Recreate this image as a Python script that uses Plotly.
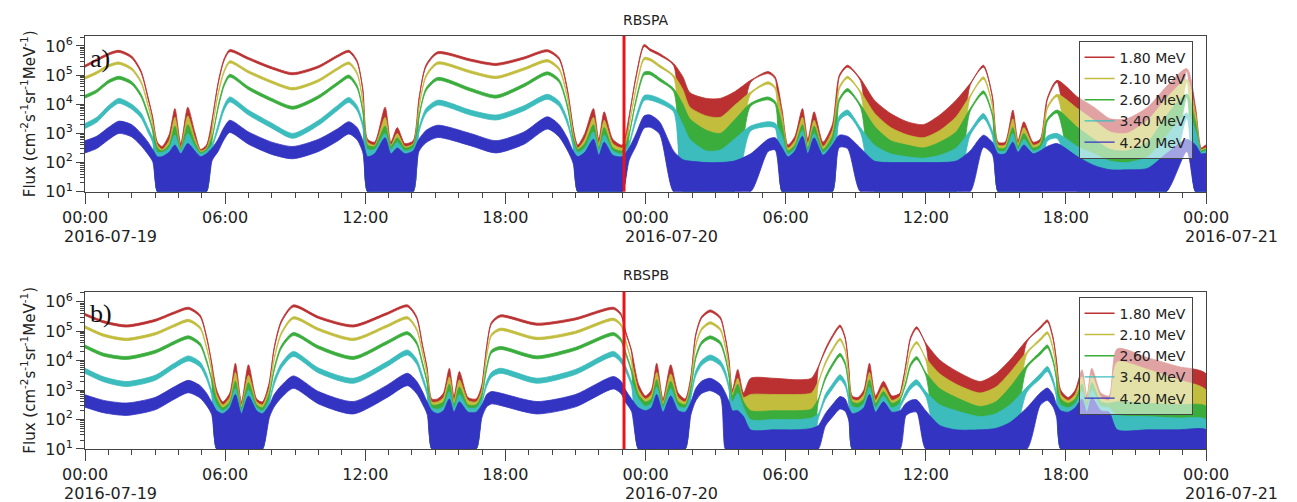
import pandas as pd
import plotly.graph_objects as go

# ---------------- data (log10 flux, upper envelope of each channel) ----------------
T0 = pd.Timestamp("2016-07-19 00:00")
EVENT_HOUR = 23.08  # red vertical marker (hours after 2016-07-19 00:00)

CHANNELS = ["1.80 MeV", "2.10 MeV", "2.60 MeV", "3.40 MeV", "4.20 MeV"]
COLORS = ["#bb3131", "#c2bd3d", "#3aad3c", "#3cbcbc", "#3434c2"]

TIME_A = [0, 0.5, 1.0, 1.45, 2.0, 2.4, 2.7, 2.9, 3.1,
          3.3, 3.6, 3.85, 4.1, 4.4, 4.7, 4.95, 5.2,
          5.45, 5.7, 5.95, 6.2, 7.0, 8.0, 8.9, 10.0, 10.8, 11.3, 11.65, 11.9, 12.1,
          12.4, 12.85, 13.1, 13.37, 13.7, 14.05,
          14.3, 14.6, 15.1, 16.5, 17.6, 18.8, 19.8, 20.3, 20.65, 20.9, 21.1,
          21.4, 21.77, 22.0, 22.23, 22.6, 23.0,
          23.3, 23.6, 23.94, 24.2, 24.6, 25.2, 25.6, 25.9, 26.6, 27.2, 27.8, 28.5, 29.25, 29.55, 29.85,
          30.1, 30.4, 30.72, 30.95, 31.22, 31.6, 32.0,
          32.3, 32.65, 33.2, 33.8, 34.5, 35.2, 35.9, 36.6, 37.3, 37.9, 38.47, 38.85, 39.1,
          39.4, 39.73, 39.95, 40.2, 40.6, 40.9,
          41.2, 41.62, 42.5, 43.2, 43.9, 44.6, 45.5, 46.3, 47.18, 47.55, 47.8, 48.0]

A_180 = [5.34, 5.55, 5.75, 5.85, 5.65, 5.15, 4.25, 3.55, 2.7,
         2.55, 2.95, 3.85, 2.65, 3.9, 3.05, 2.45, 2.6,
         3.5, 4.75, 5.55, 5.87, 5.6, 5.28, 5.08, 5.32, 5.68, 5.85, 5.5, 4.5, 2.8,
         2.7, 3.9, 2.7, 3.2, 2.65, 2.75,
         4.2, 5.35, 5.8, 5.55, 5.4, 5.62, 5.87, 5.6, 4.55, 3.2, 2.6,
         3.0, 3.85, 2.8, 3.74, 2.8, 2.6,
         3.6, 5.0, 6.05, 5.9, 5.74, 5.4, 4.94, 4.4, 4.2, 4.2, 4.42, 4.82, 5.12, 4.94, 3.8,
         2.6, 2.9, 3.85, 2.8, 3.74, 2.7, 3.3,
         5.0, 5.34, 4.88, 4.14, 3.68, 3.4, 3.3, 3.63, 4.14, 4.71, 5.34, 4.3, 2.7,
         2.7, 3.8, 2.75, 3.4, 2.7, 2.8,
         4.2, 4.82, 4.25, 3.9, 3.5, 3.5, 3.9, 4.6, 5.22, 3.9, 2.5, 2.6]
A_210 = [4.94, 5.12, 5.35, 5.45, 5.25, 4.8, 4.0, 3.35, 2.6,
         2.45, 2.75, 3.55, 2.5, 3.6, 2.85, 2.4, 2.5,
         3.2, 4.4, 5.15, 5.49, 5.15, 4.8, 4.57, 4.85, 5.25, 5.45, 5.1, 4.1, 2.7,
         2.6, 3.55, 2.6, 3.0, 2.55, 2.65,
         3.9, 5.0, 5.45, 5.15, 4.96, 5.25, 5.53, 5.25, 4.3, 3.0, 2.5,
         2.8, 3.55, 2.65, 3.45, 2.65, 2.5,
         3.3, 4.6, 5.6, 5.57, 5.35, 5.0, 4.5, 3.9, 3.6, 3.55, 3.95, 4.42, 4.77, 4.6, 3.6,
         2.5, 2.75, 3.55, 2.65, 3.45, 2.55, 3.1,
         4.6, 4.96, 4.45, 3.7, 3.2, 2.95, 2.85, 3.1, 3.57, 4.3, 4.94, 4.0, 2.6,
         2.6, 3.5, 2.65, 3.2, 2.6, 2.7,
         3.9, 4.34, 3.85, 3.45, 3.05, 3.0, 3.45, 4.2, 4.85, 3.7, 2.45, 2.5]
A_260 = [4.31, 4.5, 4.82, 4.96, 4.78, 4.35, 3.7, 3.15, 2.5,
         2.4, 2.6, 3.25, 2.45, 3.3, 2.7, 2.35, 2.45,
         2.9, 3.95, 4.7, 5.03, 4.6, 4.2, 3.93, 4.3, 4.75, 5.0, 4.65, 3.8, 2.6,
         2.55, 3.25, 2.55, 2.85, 2.5, 2.6,
         3.6, 4.55, 4.92, 4.55, 4.31, 4.7, 5.11, 4.85, 4.0, 2.85, 2.45,
         2.65, 3.3, 2.5, 3.2, 2.5, 2.4,
         3.0, 4.2, 5.1, 5.11, 4.9, 4.54, 4.0, 3.5, 3.11, 3.0, 3.45, 4.03, 4.25, 4.1, 3.3,
         2.4, 2.6, 3.3, 2.5, 3.25, 2.45, 2.9,
         4.2, 4.54, 4.0, 3.25, 2.75, 2.6, 2.5, 2.7, 3.05, 3.85, 4.46, 3.7, 2.5,
         2.5, 3.2, 2.55, 3.0, 2.5, 2.6,
         3.5, 3.8, 3.2, 2.8, 2.45, 2.4, 2.7, 3.6, 4.35, 3.4, 2.4, 2.45]
A_340 = [3.34, 3.55, 3.95, 4.2, 4.0, 3.7, 3.2, 2.85, 2.35,
         2.35, 2.5, 2.95, 2.4, 3.0, 2.55, 2.3, 2.4,
         2.65, 3.3, 3.95, 4.25, 3.8, 3.35, 3.0, 3.45, 3.95, 4.23, 3.95, 3.35, 2.45,
         2.45, 3.0, 2.45, 2.7, 2.4, 2.5,
         3.2, 3.85, 4.14, 3.8, 3.63, 3.95, 4.34, 4.1, 3.5, 2.7, 2.35,
         2.5, 3.05, 2.4, 2.95, 2.4, 2.3,
         2.7, 3.6, 4.3, 4.31, 4.2, 3.91, 3.3, 2.8, 2.4, 2.43, 2.8, 3.25, 3.4, 3.35, 2.9,
         2.3, 2.5, 3.1, 2.4, 3.0, 2.35, 2.7,
         3.6, 3.8, 3.2, 2.6, 2.3, 2.2, 2.15, 2.25, 2.5, 3.1, 3.68, 3.1, 2.4,
         2.4, 3.0, 2.45, 2.8, 2.4, 2.5,
         2.9, 3.0, 2.55, 2.3, 2.05, 2.0, 2.2, 2.9, 3.7, 3.1, 2.35, 2.4]
A_420 = [2.75, 2.9, 3.2, 3.42, 3.3, 3.0, 2.7, 2.45, 2.2,
         2.2, 2.35, 2.6, 2.3, 2.65, 2.4, 2.2, 2.3,
         2.5, 2.8, 3.2, 3.45, 3.05, 2.7, 2.55, 2.8, 3.15, 3.4, 3.2, 2.75, 2.2,
         2.3, 2.85, 2.3, 2.5, 2.3, 2.4,
         2.8, 3.1, 3.28, 3.0, 2.75, 3.05, 3.57, 3.3, 2.85, 2.4, 2.2,
         2.35, 2.8, 2.25, 2.7, 2.25, 2.2,
         2.5, 3.0, 3.6, 3.63, 3.4, 2.4, 2.1, 2.05, 2.0, 2.0, 2.05, 2.3, 2.8, 2.85, 2.5,
         2.2, 2.4, 2.9, 2.3, 2.85, 2.25, 2.6,
         2.94, 2.9, 2.5, 2.05, 2.0, 2.0, 2.0, 2.0, 2.05, 2.4, 2.94, 2.7, 2.3,
         2.3, 2.7, 2.35, 2.6, 2.3, 2.4,
         2.55, 2.65, 2.2, 1.9, 1.75, 1.75, 1.8, 2.3, 2.8, 2.6, 2.3, 2.3]
# hour intervals where the channels are noisy down to the count floor
A_STACK = [(3.0, 5.3), (12.0, 14.2), (20.95, 23.25), (25.4, 28.2), (29.8, 32.15),
           (33.5, 37.7), (39.0, 41.1), (42.2, 46.6), (47.5, 48.0)]
A_BLUE_FLOOR = [(3.0, 5.3), (12.0, 14.2), (20.95, 23.25), (25.0, 29.1), (29.8, 32.15),
                (32.9, 38.2), (39.0, 46.8), (47.5, 48.0)]

TIME_B = [0, 0.8, 1.78, 3.0, 3.8, 4.43, 4.93, 5.2, 5.42, 5.64,
          5.9, 6.2, 6.44, 6.7, 7.0, 7.35, 7.6,
          7.9, 8.1, 8.4, 8.92, 10.0, 11.49, 12.9, 13.81, 14.2, 14.45, 14.65, 14.85,
          15.1, 15.35, 15.6, 15.8, 16.03, 16.4, 16.75,
          17.0, 17.2, 17.4, 17.78, 19.35, 21.0, 22.63, 22.95, 23.15, 23.4, 23.7,
          24.0, 24.25, 24.48, 24.75, 25.08, 25.4, 25.7,
          25.95, 26.15, 26.4, 26.77, 27.2, 27.42, 27.58, 27.72, 27.95, 28.2, 28.5, 29.5, 30.5, 31.1,
          31.4, 31.7, 32.0, 32.33, 32.55, 32.7, 32.85,
          33.1, 33.35, 33.59, 33.85, 34.19, 34.55,
          34.9, 35.15, 35.35, 35.61, 36.0, 36.6, 37.3, 38.33, 39.0, 39.61, 40.33, 40.9, 41.21, 41.45, 41.6, 41.78,
          42.1, 42.4, 42.69, 42.9, 43.11, 43.5, 43.85, 44.2, 45.5, 46.8, 48.0]

B_180 = [5.6, 5.35, 5.21, 5.4, 5.65, 5.81, 5.55, 4.85, 3.95, 3.0,
         2.6, 2.9, 3.91, 2.6, 3.86, 2.7, 2.6,
         3.3, 4.45, 5.35, 5.89, 5.5, 5.21, 5.62, 5.89, 5.5, 4.55, 3.75, 2.7,
         2.7, 2.9, 3.74, 2.8, 3.63, 2.75, 2.7,
         3.2, 4.5, 5.3, 5.55, 5.27, 5.45, 5.81, 5.6, 5.0, 4.36, 3.2,
         2.8, 3.0, 3.91, 2.7, 3.86, 2.9, 2.7,
         3.5, 4.9, 5.5, 5.72, 5.49, 4.8, 4.0, 3.0, 3.7, 2.9, 3.4, 3.4, 3.35, 3.4,
         3.8, 4.4, 4.85, 5.21, 4.8, 3.8, 2.8,
         2.75, 3.0, 3.91, 2.8, 3.3, 2.8,
         2.9, 3.9, 4.8, 5.15, 4.6, 4.02, 3.65, 3.29, 3.55, 4.02, 4.7, 5.15, 5.38, 4.8, 4.0, 3.0,
         2.75, 3.0, 3.69, 2.8, 3.74, 2.9, 2.8, 4.4, 4.1, 3.8, 3.55]
B_210 = [5.18, 4.9, 4.76, 4.95, 5.22, 5.4, 5.15, 4.5, 3.7, 2.85,
         2.5, 2.75, 3.6, 2.5, 3.5, 2.6, 2.5,
         3.1, 4.1, 4.95, 5.49, 5.1, 4.76, 5.2, 5.49, 5.1, 4.3, 3.55, 2.6,
         2.6, 2.75, 3.45, 2.65, 3.35, 2.65, 2.6,
         3.0, 4.2, 4.9, 5.1, 4.79, 5.0, 5.44, 5.25, 4.7, 4.0, 3.0,
         2.7, 2.85, 3.6, 2.6, 3.55, 2.75, 2.6,
         3.3, 4.55, 5.1, 5.32, 5.1, 4.5, 3.75, 2.9, 3.4, 2.75, 2.85, 2.85, 2.85, 2.9,
         3.3, 3.95, 4.4, 4.76, 4.4, 3.5, 2.7,
         2.65, 2.85, 3.6, 2.65, 3.1, 2.65,
         2.8, 3.6, 4.35, 4.65, 4.1, 3.55, 3.2, 2.9, 3.1, 3.6, 4.3, 4.75, 4.98, 4.45, 3.7, 2.85,
         2.65, 2.85, 3.45, 2.65, 3.5, 2.75, 2.65, 3.95, 3.7, 3.35, 3.0]
B_260 = [4.53, 4.25, 4.14, 4.35, 4.65, 4.84, 4.6, 4.05, 3.4, 2.7,
         2.4, 2.6, 3.3, 2.4, 3.25, 2.5, 2.4,
         2.9, 3.75, 4.5, 4.95, 4.5, 4.14, 4.65, 4.98, 4.65, 3.95, 3.3, 2.5,
         2.5, 2.6, 3.2, 2.5, 3.1, 2.5, 2.5,
         2.85, 3.8, 4.35, 4.48, 4.16, 4.45, 4.95, 4.75, 4.3, 3.7, 2.85,
         2.6, 2.7, 3.35, 2.5, 3.3, 2.6, 2.5,
         3.1, 4.15, 4.65, 4.84, 4.65, 4.15, 3.5, 2.8, 3.2, 2.6, 2.3, 2.3, 2.3, 2.35,
         2.7, 3.45, 3.9, 4.25, 3.95, 3.2, 2.6,
         2.55, 2.7, 3.35, 2.55, 2.95, 2.55,
         2.7, 3.3, 3.9, 4.14, 3.6, 3.05, 2.75, 2.44, 2.6, 3.1, 3.85, 4.3, 4.53, 4.05, 3.4, 2.7,
         2.55, 2.7, 3.2, 2.55, 3.25, 2.6, 2.55, 2.6, 2.55, 2.5, 2.45]
B_340 = [3.74, 3.45, 3.29, 3.5, 3.9, 4.16, 3.95, 3.55, 3.0, 2.5,
         2.3, 2.5, 3.05, 2.3, 3.0, 2.4, 2.3,
         2.7, 3.35, 3.9, 4.31, 3.75, 3.4, 3.95, 4.36, 4.05, 3.5, 3.0, 2.4,
         2.35, 2.45, 2.95, 2.4, 2.85, 2.4, 2.4,
         2.7, 3.3, 3.6, 3.74, 3.4, 3.7, 4.31, 4.1, 3.8, 3.3, 2.7,
         2.45, 2.55, 3.1, 2.4, 3.05, 2.45, 2.4,
         2.9, 3.65, 4.0, 4.19, 4.0, 3.65, 3.15, 2.6, 2.9, 2.4, 2.0, 2.0, 2.0, 2.05,
         2.2, 2.85, 3.2, 3.52, 3.3, 2.8, 2.45,
         2.4, 2.55, 3.1, 2.4, 2.8, 2.4,
         2.55, 2.95, 3.2, 3.35, 2.95, 2.5, 2.3, 2.1, 2.2, 2.5, 3.1, 3.55, 3.8, 3.4, 2.9, 2.5,
         2.4, 2.55, 2.95, 2.4, 3.0, 2.45, 2.4, 2.15, 2.1, 2.05, 2.0]
B_420 = [2.84, 2.65, 2.56, 2.75, 3.1, 3.33, 3.15, 2.9, 2.6, 2.3,
         2.2, 2.4, 2.85, 2.2, 2.8, 2.3, 2.2,
         2.5, 2.85, 3.15, 3.48, 2.95, 2.61, 3.15, 3.57, 3.3, 2.95, 2.6, 2.3,
         2.2, 2.3, 2.7, 2.25, 2.6, 2.25, 2.25,
         2.5, 2.85, 2.95, 2.9, 2.61, 2.85, 3.46, 3.3, 3.0, 2.7, 2.4,
         2.3, 2.4, 2.85, 2.25, 2.8, 2.3, 2.25,
         2.6, 3.05, 3.3, 3.4, 3.2, 2.9, 2.6, 2.3, 2.3, 2.1, 1.65, 1.65, 1.65, 1.7,
         1.8, 2.2, 2.5, 2.78, 2.7, 2.4, 2.2,
         2.25, 2.4, 2.85, 2.25, 2.6, 2.25,
         2.3, 2.55, 2.65, 2.67, 2.3, 1.8, 1.65, 1.65, 1.7, 1.9, 2.4, 2.9, 3.07, 2.85, 2.5, 2.3,
         2.25, 2.4, 2.7, 2.25, 2.75, 2.3, 2.25, 1.65, 1.65, 1.65, 1.65]
B_STACK = [(5.55, 7.75), (14.75, 16.9), (23.6, 25.9), (27.65, 31.2), (32.75, 34.8),
           (36.3, 40.1), (41.7, 48.0)]
B_BLUE_FLOOR = [(5.55, 7.75), (14.75, 16.9), (23.6, 25.9), (27.3, 31.5), (32.75, 35.0),
                (35.9, 40.5), (41.7, 48.0)]

# ---------------- styling ----------------
BAND = [0.07, 0.08, 0.10, 0.17, 0.42]   # visual thickness of the noisy trace (decades)
FONT = "DejaVu Sans"
INK = "#222222"
AX = "#444444"
PAGE_OFFSET = 8   # default body margin of the html page (px)
W, H = 1297 - PAGE_OFFSET, 502


def to_time(hours):
    return [T0 + pd.Timedelta(hours=h) for h in hours]


def inside(h, intervals):
    return any(a <= h <= b for a, b in intervals)


fig = go.Figure()

panels = [
    ("x", "y", "legend", TIME_A, [A_180, A_210, A_260, A_340, A_420], A_STACK, A_BLUE_FLOOR),
    ("x2", "y2", "legend2", TIME_B, [B_180, B_210, B_260, B_340, B_420], B_STACK, B_BLUE_FLOOR),
]

for xa, ya, leg, hours, series, stack, bfloor in panels:
    times = to_time(hours)
    for k, (name, col, hi) in enumerate(zip(CHANNELS, COLORS, series)):
        floor = bfloor if k == 4 else stack
        lo = [1.0 if inside(h, floor) else v - BAND[k] for h, v in zip(hours, hi)]
        xs = times + times[::-1]
        ys = [10 ** v for v in hi] + [10 ** v for v in lo[::-1]]
        fig.add_trace(go.Scatter(
            x=xs, y=ys, mode="lines", fill="toself", fillcolor=col,
            line=dict(color=col, width=0.8, shape="spline", smoothing=0.7),
            showlegend=False, hoverinfo="skip", xaxis=xa, yaxis=ya))
    for name, col in zip(CHANNELS, COLORS):
        fig.add_trace(go.Scatter(
            x=[None], y=[None], mode="lines", line=dict(color=col, width=1.4),
            name=name, legend=leg, xaxis=xa, yaxis=ya))

t_start, t_end = T0, T0 + pd.Timedelta(hours=48)
t_event = T0 + pd.Timedelta(hours=EVENT_HOUR)

xcommon = dict(
    type="date", range=[t_start, t_end], tickmode="linear", tick0=t_start,
    dtick=6 * 3600 * 1000, tickformat="%H:%M", ticks="outside", ticklen=11,
    tickwidth=1, tickcolor=AX, showline=True, linecolor=AX, linewidth=1, mirror=True,
    showgrid=False, zeroline=False, ticklabelstandoff=0,
    tickfont=dict(family=FONT, size=16, color=INK),
    minor=dict(ticks="outside", ticklen=5, tickcolor=AX, tickwidth=1,
               tick0=t_start, dtick=3600 * 1000, showgrid=False),
)
DECADES = [1, 2, 3, 4, 5, 6]
ycommon = dict(
    type="log", range=[1, 6.34], tickmode="array",
    tickvals=[10 ** d for d in DECADES],
    ticktext=["10<sup>%d</sup>" % d for d in DECADES],
    ticks="outside", ticklen=8, tickwidth=1, tickcolor=AX,
    showline=True, linecolor=AX, linewidth=1, mirror=True, showgrid=False,
    zeroline=False, tickfont=dict(family=FONT, size=16, color=INK),
    minor=dict(ticks="outside", ticklen=4, tickcolor=AX, tickwidth=1,
               tickvals=[m * 10 ** d for d in DECADES[:-1] for m in range(2, 10)]
               + [2 * 10 ** 6],
               showgrid=False),
    title=dict(text="Flux (cm<sup>-2</sup>s<sup>-1</sup>sr<sup>-1</sup>MeV<sup>-1</sup>)",
               font=dict(family=FONT, size=15, color=INK), standoff=6),
)

fig.update_layout(
    width=W, height=H,
    margin=dict(l=85 - PAGE_OFFSET, r=91, t=36 - PAGE_OFFSET, b=53 + PAGE_OFFSET),
    paper_bgcolor="white", plot_bgcolor="white",
    xaxis=dict(domain=[0, 1], anchor="y", **xcommon),
    yaxis=dict(domain=[0.623, 1.0], anchor="x", **ycommon),
    xaxis2=dict(domain=[0, 1], anchor="y2", **xcommon),
    yaxis2=dict(domain=[0.0, 0.381], anchor="x2", **ycommon),
    font=dict(family=FONT, color=INK),
)

legcommon = dict(
    x=0.988, xanchor="right", yanchor="top",
    bgcolor="rgba(255,255,255,0.55)", bordercolor="#444444", borderwidth=1,
    font=dict(family=FONT, size=14, color=INK), itemwidth=30, tracegroupgap=0,
)
fig.update_layout(legend=dict(y=0.9886, **legcommon), legend2=dict(y=0.3688, **legcommon))

shapes, annotations = [], []
for xa, ya, title, label, tshift in [("x", "y", "RBSPA", "a)", 15.7), ("x2", "y2", "RBSPB", "b)", 16.7)]:
    shapes.append(dict(type="line", xref=xa, yref=ya + " domain", x0=t_event, x1=t_event,
                       y0=0, y1=1, line=dict(color="#e8141b", width=3), layer="above"))
    annotations.append(dict(text=title, xref=xa + " domain", yref=ya + " domain", x=0.5, y=1,
                            xanchor="center", yanchor="middle", yshift=tshift, showarrow=False,
                            font=dict(family=FONT, size=14, color=INK)))
    annotations.append(dict(text=label, xref=xa + " domain", yref=ya + " domain", x=0, y=1,
                            xanchor="left", yanchor="middle", xshift=3, yshift=-22, showarrow=False,
                            font=dict(family="Liberation Serif", size=26, color="#111111")))
    for day in [0, 24, 48]:
        annotations.append(dict(text=(T0 + pd.Timedelta(hours=day)).strftime("%Y-%m-%d"),
                                xref=xa, yref=ya + " domain", x=T0 + pd.Timedelta(hours=day), y=0,
                                xanchor="left", yanchor="middle", xshift=-23, yshift=-44.5,
                                showarrow=False, font=dict(family=FONT, size=16, color=INK)))
fig.update_layout(shapes=shapes, annotations=annotations)

fig.write_html("out.html")
